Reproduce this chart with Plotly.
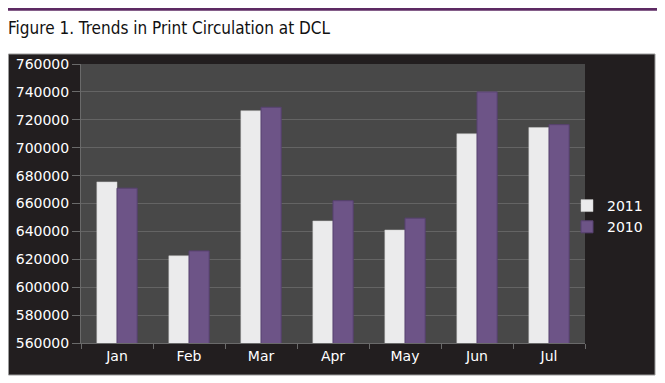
import plotly.graph_objects as go

months = ["Jan", "Feb", "Mar", "Apr", "May", "Jun", "Jul"]
circ_2011 = [675500, 622500, 726500, 647500, 641000, 710000, 714500]
circ_2010 = [671000, 626000, 729000, 662000, 649500, 740000, 716500]
y_ticks = [560000, 580000, 600000, 620000, 640000, 660000, 680000, 700000, 720000, 740000, 760000]

# the page body adds an 8px offset, so the figure is drawn 8px smaller
W, H = 657, 375
L, R, T, B = 73, 80, 56, 40
pw, ph = W - L - R, H - T - B

def px(x):
    return (x - L) / pw

def py(y):
    return (H - B - y) / ph

fig = go.Figure()
fig.add_trace(go.Bar(
    name="2011", x=months, y=circ_2011,
    marker=dict(color="#ebebec", line=dict(color="#c8c8c8", width=0.5)),
))
fig.add_trace(go.Bar(
    name="2010", x=months, y=circ_2010,
    marker=dict(color="#6d5487", line=dict(color="#574170", width=1)),
))

tick_font = dict(family="DejaVu Sans, Open Sans, sans-serif", size=14, color="#ffffff")

fig.update_layout(
    width=W, height=H,
    margin=dict(l=L, r=R, t=T, b=B, pad=0, autoexpand=False),
    paper_bgcolor="#ffffff",
    plot_bgcolor="#484848",
    barmode="group",
    bargap=0.44,
    bargroupgap=0.0,
    showlegend=True,
    title=dict(
        text="Figure 1. Trends in Print Circulation at DCL",
        x=0, xref="container", xanchor="left",
        y=1 - 20 / H, yref="container", yanchor="middle",
        font=dict(family="DejaVu Sans Condensed, Liberation Sans Narrow, sans-serif", size=17, color="#111111"),
    ),
    legend=dict(
        x=px(559), y=py(182), xanchor="left", yanchor="top",
        bgcolor="rgba(0,0,0,0)",
        font=dict(family="DejaVu Sans, Open Sans, sans-serif", size=14, color="#ffffff"),
        tracegroupgap=3,
        itemwidth=30,
    ),
    xaxis=dict(
        tickfont=tick_font,
        ticks="outside", tickson="boundaries", ticklen=5, tickcolor="#6a6a6a",
        showline=True, linecolor="#6a6a6a", linewidth=1,
        showgrid=False,
    ),
    yaxis=dict(
        range=[560000, 760000],
        tickvals=y_ticks,
        ticktext=[str(v) for v in y_ticks],
        tickfont=tick_font,
        ticks="outside", ticklen=8, tickcolor="#6a6a6a",
        showline=True, linecolor="#6a6a6a", linewidth=1,
        showgrid=True, gridcolor="#646464", gridwidth=1,
        zeroline=False,
    ),
    shapes=[
        dict(type="rect", xref="paper", yref="paper", layer="below",
             x0=px(0.5), x1=px(647), y0=py(367), y1=py(46),
             fillcolor="#221e1f", line=dict(color="#9a9a9a", width=1)),
        dict(type="rect", xref="paper", yref="paper", layer="below",
             x0=0, x1=1, y0=0, y1=1,
             fillcolor="#484848", line=dict(width=0)),
        dict(type="line", xref="paper", yref="paper",
             x0=px(0), x1=px(652), y0=py(1.4), y1=py(1.4),
             line=dict(color="#5d2a63", width=2.8)),
    ],
)

fig.write_html("out.html")
